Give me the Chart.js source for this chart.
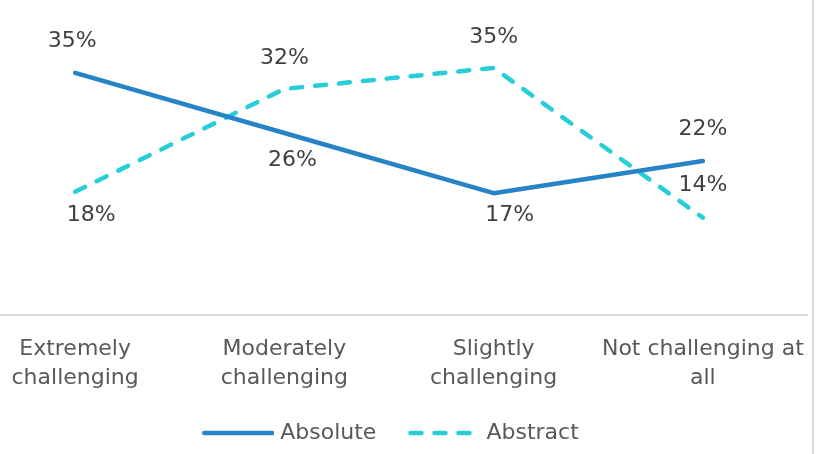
<!DOCTYPE html>
<html>
<head>
<meta charset="utf-8">
<script src="https://cdn.jsdelivr.net/npm/chart.js@4.4.1/dist/chart.umd.min.js"></script>
<style>
  html, body { margin: 0; padding: 0; background: #fff; overflow: hidden; width: 820px; height: 454px; }
  #wrap { position: absolute; left: -30px; top: 0; width: 850px; height: 454px; }
</style>
</head>
<body>
<div id="wrap"><canvas id="chart"></canvas></div>
<script>
// Categories and series values (percent)
const categories = [
  ["Extremely", "challenging"],
  ["Moderately", "challenging"],
  ["Slightly", "challenging"],
  ["Not challenging at", "all"]
];
const seriesNames = ["Absolute", "Abstract"];
const absoluteValues = [34.6, 26.0, 17.4, 22.0];
const abstractValues = [17.6, 32.3, 35.3, 13.9];
const yRange = [0, 40];

// Value-label placement per point: [dx, dy] from the point
const absoluteLabelPlace = [[-3, -32], [8, 27], [16, 22], [0, -32]];
const abstractLabelPlace = [[16, 23], [0, -31], [0, -31], [0, -32]];

const FONT = "'DejaVu Sans', sans-serif";
const BLUE = "#2683C6";
const CYAN = "#27CED7";

// Line sample images for the legend
function legendSample(color, dash, x0, x1) {
  const c = document.createElement("canvas");
  c.width = 80; c.height = 8;
  const g = c.getContext("2d");
  g.strokeStyle = color;
  g.lineWidth = 4.5;
  g.lineCap = "round";
  g.setLineDash(dash);
  g.beginPath();
  g.moveTo(x0, 4);
  g.lineTo(x1, 4);
  g.stroke();
  return c;
}
const sampleAbsolute = legendSample(BLUE, [], 10, 78);
const sampleAbstract = legendSample(CYAN, [11, 13], 10, 74);

const valueLabels = {
  id: "valueLabels",
  afterDatasetsDraw(chart) {
    const ctx = chart.ctx;
    const places = [absoluteLabelPlace, abstractLabelPlace];
    ctx.save();
    ctx.font = "22px " + FONT;
    ctx.fillStyle = "#404040";
    ctx.textAlign = "center";
    ctx.textBaseline = "middle";
    chart.data.datasets.forEach((ds, i) => {
      const meta = chart.getDatasetMeta(i);
      meta.data.forEach((pt, j) => {
        const [dx, dy] = places[i][j];
        ctx.fillText(Math.round(ds.data[j]) + "%", pt.x + dx, pt.y + dy);
      });
    });
    ctx.restore();
  }
};

const frameEdge = {
  id: "frameEdge",
  afterDraw(chart) {
    const ctx = chart.ctx;
    ctx.save();
    ctx.strokeStyle = "#d9d9d9";
    ctx.lineWidth = 2;
    ctx.beginPath();
    ctx.moveTo(843, 0);
    ctx.lineTo(843, chart.height);
    ctx.stroke();
    ctx.restore();
  }
};

new Chart(document.getElementById("chart"), {
  type: "line",
  data: {
    labels: categories,
    datasets: [
      {
        label: seriesNames[0],
        data: absoluteValues,
        borderColor: BLUE,
        backgroundColor: BLUE,
        borderWidth: 4.5,
        borderCapStyle: "round",
        borderJoinStyle: "round",
        pointRadius: 0,
        tension: 0,
        pointStyle: sampleAbsolute
      },
      {
        label: seriesNames[1],
        data: abstractValues,
        borderColor: CYAN,
        backgroundColor: CYAN,
        borderWidth: 4.5,
        borderDash: [11, 13],
        borderCapStyle: "round",
        borderJoinStyle: "round",
        pointRadius: 0,
        tension: 0,
        pointStyle: sampleAbstract
      }
    ]
  },
  options: {
    responsive: true,
    maintainAspectRatio: false,
    animation: false,
    layout: { padding: { top: 35, left: 0.5, right: 12.5, bottom: 0 } },
    scales: {
      x: {
        offset: true,
        grid: { display: false, drawTicks: false },
        border: { display: true, color: "#d9d9d9", width: 2 },
        ticks: {
          color: "#595959",
          font: { family: FONT, size: 22, lineHeight: 1.3 },
          padding: 20,
          maxRotation: 0,
          autoSkip: false
        },
        afterFit(scale) {
          // fixed band for the two-line category labels; no extra side padding
          scale.height = 78;
          scale.paddingLeft = 0;
          scale.paddingRight = 0;
        }
      },
      y: {
        display: false,
        min: yRange[0],
        max: yRange[1]
      }
    },
    plugins: {
      legend: {
        position: "bottom",
        labels: {
          usePointStyle: true,
          pointStyleWidth: 70,
          boxHeight: 8,
          padding: 29,
          color: "#595959",
          font: { family: FONT, size: 22 }
        }
      },
      tooltip: { enabled: false }
    }
  },
  plugins: [valueLabels, frameEdge]
});
</script>
</body>
</html>
